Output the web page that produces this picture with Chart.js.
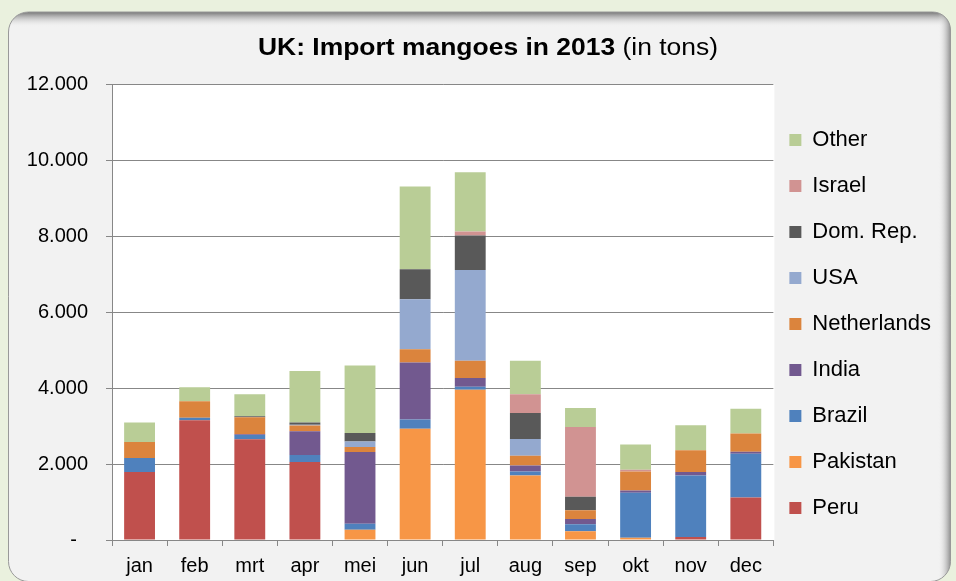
<!DOCTYPE html>
<html>
<head>
<meta charset="utf-8">
<script src="https://cdn.jsdelivr.net/npm/chart.js@4.4.1/dist/chart.umd.min.js"></script>
<style>
  html, body { margin: 0; padding: 0; background: #eaf1de; }
  #chart { display: block; }
</style>
</head>
<body>
<canvas id="chart" width="956" height="581"></canvas>
<script>
//--------------------Data-------------------
const months = ["jan", "feb", "mrt", "apr", "mei", "jun", "jul", "aug", "sep", "okt", "nov", "dec"];

// tons per month, bottom of the stack first
const peru        = [1790, 3150, 2650, 2050,    0,    0,    0,    0,    0,    0,   80, 1120];
const pakistan    = [   0,    0,    0,    0,  270, 2930, 3955, 1700,  230,   60,    0,    0];
const brazil      = [ 370,   70,  110,  190,  160,  240,   80,  105,  185, 1185, 1620, 1150];
const india       = [   0,    0,   20,  620, 1885, 1500,  230,  155,  140,   55,   90,   55];
const netherlands = [ 420,  430,  450,  150,  130,  350,  455,  255,  230,  500,  570,  480];
const usa         = [   0,    0,    0,   25,  150, 1315, 2385,  445,    0,    0,    0,    0];
const domRep      = [   0,    0,   25,   55,  220,  790,  910,  685,  350,    0,    0,    0];
const israel      = [   0,    0,    0,    0,    0,    0,  105,  490, 1840,   50,    0,    0];
const other       = [ 510,  370,  580, 1360, 1780, 2175, 1560,  885,  500,  660,  660,  650];

const yMax = 12000;
const yStep = 2000;

//--------------------Style-------------------
const FONT = "'Liberation Sans', Arial, sans-serif";
const gridGray = "#878787";

const series = [
  { label: "Peru",        data: peru,        color: "#c0504d" },
  { label: "Pakistan",    data: pakistan,    color: "#f79646" },
  { label: "Brazil",      data: brazil,      color: "#4f81bd" },
  { label: "India",       data: india,       color: "#72598f" },
  { label: "Netherlands", data: netherlands, color: "#db843d" },
  { label: "USA",         data: usa,         color: "#94a9cf" },
  { label: "Dom. Rep.",   data: domRep,      color: "#595959" },
  { label: "Israel",      data: israel,      color: "#d19392" },
  { label: "Other",       data: other,       color: "#b9cd96" }
];

function formatTons(v) {
  if (v === 0) return "-  ";
  return String(v).replace(/\B(?=(\d{3})+(?!\d))/g, ".");
}

function panelPath(ctx) {
  ctx.beginPath();
  ctx.roundRect(8.5, 12, 942, 569.5, [20, 18, 20, 20]);
}

// panel + white plot area behind everything
const panelBackground = {
  id: "panelBackground",
  beforeDraw(chart) {
    const { ctx, chartArea } = chart;
    ctx.save();
    ctx.fillStyle = "#eaf1de";
    ctx.fillRect(0, 0, chart.width, chart.height);

    panelPath(ctx);
    ctx.fillStyle = "#f2f2f2";
    ctx.fill();

    // bevel shadow on top and right edge
    ctx.save();
    panelPath(ctx);
    ctx.clip();
    let g = ctx.createLinearGradient(0, 12, 0, 27);
    g.addColorStop(0, "rgba(110,110,110,0.95)");
    g.addColorStop(1, "rgba(242,242,242,0)");
    ctx.fillStyle = g;
    ctx.fillRect(0, 12, chart.width, 15);
    g = ctx.createLinearGradient(951, 0, 938, 0);
    g.addColorStop(0, "rgba(110,110,110,0.8)");
    g.addColorStop(1, "rgba(242,242,242,0)");
    ctx.fillStyle = g;
    ctx.fillRect(938, 12, 13, chart.height);
    ctx.restore();

    panelPath(ctx);
    ctx.strokeStyle = "#999999";
    ctx.lineWidth = 1;
    ctx.stroke();

    ctx.fillStyle = "#ffffff";
    ctx.fillRect(chartArea.left, chartArea.top, chartArea.right - chartArea.left + 1, chartArea.bottom - chartArea.top);
    ctx.restore();
  }
};

// title with bold and normal part
const mixedTitle = {
  id: "mixedTitle",
  afterDraw(chart) {
    const { ctx } = chart;
    const boldText = "UK: Import mangoes in 2013";
    const normalText = " (in tons)";
    const stretch = 1.15;
    ctx.save();
    ctx.textBaseline = "middle";
    ctx.fillStyle = "#000000";
    ctx.font = "bold 23px " + FONT;
    const wBold = ctx.measureText(boldText).width;
    ctx.font = "23px " + FONT;
    const wNormal = ctx.measureText(normalText).width;
    ctx.translate(488, 49);
    ctx.scale(stretch, 1);
    const x = -(wBold + wNormal) / 2;
    ctx.font = "bold 23px " + FONT;
    ctx.fillText(boldText, x, 0);
    ctx.font = "23px " + FONT;
    ctx.fillText(normalText, x + wBold, 0);
    ctx.restore();
  }
};

// pull the legend a bit closer to the plot and a bit lower
const legendNudge = {
  id: "legendNudge",
  afterLayout(chart) {
    chart.legend.left -= 8;
    chart.legend.right -= 8;
    chart.legend.top += 3;
    chart.legend.bottom += 3;
  }
};

const ctx = document.getElementById("chart").getContext("2d");

new Chart(ctx, {
  type: "bar",
  data: {
    labels: months,
    datasets: series.map((s) => ({
      label: s.label,
      data: s.data,
      backgroundColor: s.color,
      borderWidth: 0,
      categoryPercentage: 1,
      barPercentage: 0.56
    }))
  },
  options: {
    responsive: false,
    animation: false,
    layout: { padding: { top: 84, left: 0, right: 7, bottom: 0 } },
    scales: {
      x: {
        stacked: true,
        grid: { drawOnChartArea: false, offset: true, color: gridGray, tickLength: 6, lineWidth: 1 },
        border: { color: gridGray, width: 1 },
        ticks: { color: "#000", font: { family: FONT, size: 20 }, padding: 8 },
        afterFit(scale) { scale.height = 41; }
      },
      y: {
        stacked: true,
        min: 0,
        max: yMax,
        grid: { color: gridGray, tickLength: 6, lineWidth: 1 },
        border: { color: gridGray, width: 1 },
        ticks: {
          stepSize: yStep,
          color: "#000",
          font: { family: FONT, size: 20 },
          padding: 18,
          callback: (v) => formatTons(v)
        },
        afterFit(scale) { scale.width = 112; }
      }
    },
    plugins: {
      legend: {
        position: "right",
        align: "end",
        fullSize: false,
        reverse: true,
        labels: {
          boxWidth: 12,
          boxHeight: 12,
          padding: 24,
          color: "#000",
          font: { family: FONT, size: 22 }
        }
      },
      title: { display: false },
      tooltip: { enabled: false }
    }
  },
  plugins: [panelBackground, mixedTitle, legendNudge]
});
</script>
</body>
</html>
